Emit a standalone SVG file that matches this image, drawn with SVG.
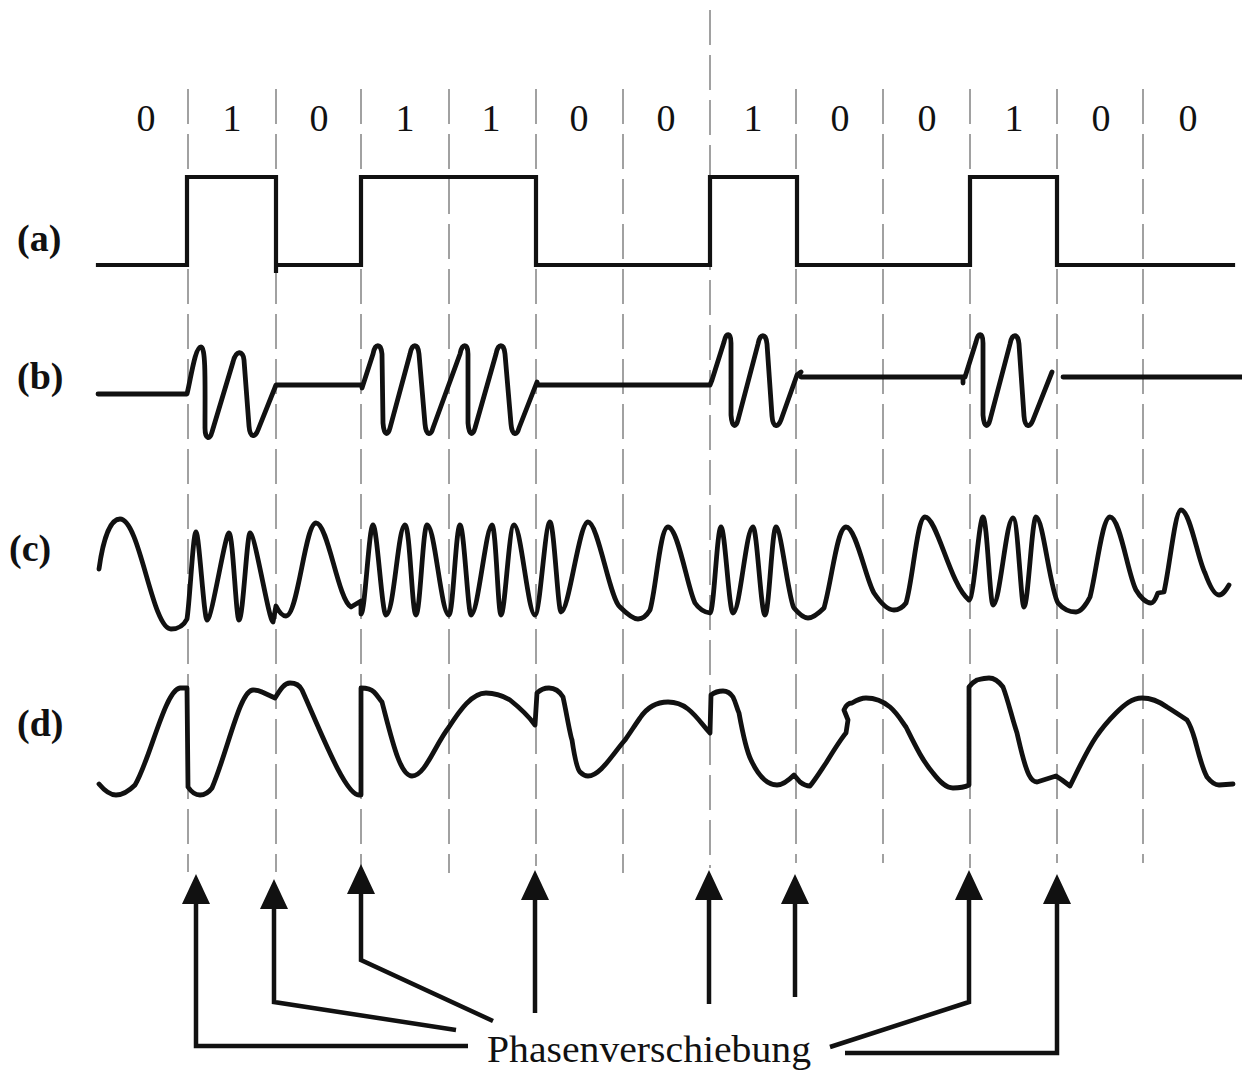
<svg xmlns="http://www.w3.org/2000/svg" width="1242" height="1071" viewBox="0 0 1242 1071">
<style>
.grid line{stroke:#8a8a8a;stroke-width:1.6;stroke-dasharray:35 10;fill:none}
.wave{fill:none;stroke:#111;stroke-width:4.8;stroke-linejoin:round;stroke-linecap:round}
.sq{fill:none;stroke:#111;stroke-width:4.2;stroke-linejoin:miter;stroke-linecap:square}
.arr{fill:none;stroke:#111;stroke-width:4.5;stroke-linejoin:miter}
text{font-family:"Liberation Serif","Times New Roman",serif;fill:#111}
.bit{font-size:38px;text-anchor:middle}
.lab{font-size:38px;font-weight:bold}
</style>
<defs>
<marker id="ah" viewBox="0 0 30 28" refX="6" refY="14" markerWidth="30" markerHeight="28" markerUnits="userSpaceOnUse" orient="auto">
<path d="M0,0 L30,14 L0,28 z" fill="#111"/>
</marker>
</defs>
<rect width="1242" height="1071" fill="#fff"/>
<g id="grid" class="grid">
<line x1="188" y1="89" x2="188" y2="872"/>
<line x1="276" y1="89" x2="276" y2="872"/>
<line x1="361" y1="89" x2="361" y2="870"/>
<line x1="449" y1="89" x2="449" y2="873"/>
<line x1="536" y1="89" x2="536" y2="866"/>
<line x1="623" y1="89" x2="623" y2="873"/>
<line x1="710" y1="10" x2="710" y2="868"/>
<line x1="796" y1="89" x2="796" y2="863"/>
<line x1="883" y1="89" x2="883" y2="863"/>
<line x1="970" y1="89" x2="970" y2="868"/>
<line x1="1057" y1="89" x2="1057" y2="863"/>
<line x1="1143" y1="89" x2="1143" y2="863"/>
</g>
<g id="bits">
<text class="bit" x="146" y="131">0</text>
<text class="bit" x="232" y="131">1</text>
<text class="bit" x="319" y="131">0</text>
<text class="bit" x="405" y="131">1</text>
<text class="bit" x="491" y="131">1</text>
<text class="bit" x="579" y="131">0</text>
<text class="bit" x="666" y="131">0</text>
<text class="bit" x="753" y="131">1</text>
<text class="bit" x="840" y="131">0</text>
<text class="bit" x="927" y="131">0</text>
<text class="bit" x="1014" y="131">1</text>
<text class="bit" x="1101" y="131">0</text>
<text class="bit" x="1188" y="131">0</text>
</g>
<g id="row-a">
<text class="lab" x="17" y="251">(a)</text>
<path class="sq" d="M98,265 L187,265 L187,177 L276,177 L276,271 M276,265 L361,265 L361,177 L536,177 L536,265 L710,265 L710,177 L797,177 L797,265 L970,265 L970,177 L1057,177 L1057,265 L1233,265"/>
</g>
<g id="row-b">
<text class="lab" x="17" y="389">(b)</text>
<path class="wave" d="M98,394 L187,394 C191,378 195,347 201,347 C206,347 205,385 205,428 C205,440 210,440 212,432 L233,362 C236,350 243,350 244,360 L249,426 C250,438 255,438 258,430 L276,385 L362,385 L362,388 L373,354 C375,343 381,343 382,354 L383,423 C384,436 388,436 390,428 L410,354 C412,343 418,343 419,354 L425,424 C426,436 431,436 433,428 L460,354 C462,343 468,343 468,354 L468,423 C469,436 473,436 475,428 L496,354 C498,343 504,343 505,354 L511,424 C512,436 517,436 519,428 L537,382 L538,385 L710,385 L712,380 L724,342 C726,332 731,332 731,343 L731,415 C732,428 736,428 738,420 L758,344 C760,333 766,333 767,344 L772,416 C773,428 778,428 781,420 L797,375 L801,372 M801,377 L963,377 L963,383 M965,377 L976,342 C978,332 983,332 983,343 L983,415 C984,428 988,428 990,420 L1010,344 C1012,333 1018,333 1019,344 L1024,416 C1025,428 1030,428 1033,420 L1052,372 M1063,377 L1242,377"/>
</g>
<g id="row-c">
<text class="lab" x="9" y="561">(c)</text>
<path class="wave" d="M99,569 C103,540 110,519 120,519 C140,519 152,629 171,629 C178,629 184,625 187,619 C190,600 193,532 196,532 C199,532 204,620 207,620 C212,620 225,533 229,533 C233,533 236,620 239,620 C243,620 247,533 250,533 C255,533 269,622 273,622 L276,606 C279,612 282,616 286,616 C298,616 305,523 316,523 C328,523 338,600 351,607 L361,601 L361,614 C365,614 369,525 373,525 C377,525 382,615 386,615 C394,615 398,525 405,525 C410,525 412,615 416,615 C420,615 423,525 427,525 C435,525 441,615 449,615 C453,615 456,525 460,525 C464,525 468,615 471,615 C478,615 486,525 492,525 C496,525 498,615 501,615 C505,615 509,525 514,525 C521,525 528,615 535,615 C540,615 545,522 550,522 C554,522 558,612 561,612 C569,612 579,522 588,522 C598,522 610,600 620,607 C625,612 632,619 638,619 C643,619 647,615 650,610 C656,590 660,527 668,527 C678,527 688,590 695,603 C699,609 704,612 710,613 C714,613 717,527 721,527 C725,527 729,613 733,613 C740,613 746,527 753,527 C757,527 761,615 765,615 C769,615 772,527 776,527 C781,527 789,602 794,608 C799,614 803,618 808,618 C814,618 820,612 824,608 C832,580 837,527 846,527 C856,527 866,580 874,593 C880,602 887,610 894,610 C898,610 903,607 906,603 C913,580 917,517 925,517 C937,517 950,585 969,600 C974,600 979,517 983,517 C987,517 990,605 993,605 C1000,605 1006,518 1013,518 C1018,518 1021,607 1024,607 C1028,607 1032,517 1036,517 C1043,517 1050,590 1058,603 C1063,609 1069,612 1076,612 C1081,612 1087,603 1090,597 C1096,575 1102,517 1110,517 C1120,517 1128,575 1136,590 C1140,597 1146,603 1151,603 C1155,603 1157,594 1158,593 L1164,592 C1170,565 1175,510 1181,510 C1190,510 1198,560 1205,573 C1209,584 1214,595 1219,595 C1223,595 1226,590 1229,585"/>
</g>
<g id="row-d">
<text class="lab" x="17" y="736">(d)</text>
<path class="wave" d="M99,784 C104,790 110,795 116,795 C124,795 130,790 135,785 C150,760 165,690 180,688 L187,688 L188,787 C192,793 196,795 200,795 C205,795 209,792 212,788 C228,750 240,690 253,690 C257,690 260,691 262,692 L275,698 C280,690 284,683 290,683 C296,683 300,686 302,690 C320,730 345,795 359,795 L361,795 L361,688 C367,688 372,690 374,692 C378,696 380,700 382,702 C392,740 400,776 412,776 C425,776 435,745 449,727 C460,710 472,693 486,693 C496,693 505,697 510,700 C520,708 530,718 535,725 L537,693 C541,689 545,688 549,688 C555,688 560,692 563,697 C566,710 570,735 572,740 C575,760 578,770 580,772 C583,775 585,776 588,776 C600,776 612,755 625,740 C630,733 635,725 640,718 C648,706 658,702 668,702 C676,702 683,705 688,709 C697,716 704,727 710,733 L711,695 C715,692 719,691 723,691 C728,691 731,694 733,697 C736,703 737,709 739,713 C743,735 746,750 751,760 C758,775 766,785 777,785 C783,785 789,780 794,775 L800,782 C804,785 807,786 810,786 C815,780 820,772 826,763 C834,750 840,740 846,733 L848,720 L844,710 C846,705 849,703 852,703 C857,700 861,698 866,698 C876,698 884,702 890,707 C897,713 901,720 906,727 C915,745 922,760 933,773 C940,782 946,788 953,788 C960,788 965,787 969,785 L969,687 C972,683 975,681 977,680 C981,679 985,678 989,678 C996,678 1000,683 1003,687 C1008,700 1012,718 1017,733 C1021,750 1024,765 1029,775 C1031,779 1034,782 1037,782 L1056,776 L1062,780 L1070,786 C1078,770 1086,752 1096,737 C1102,728 1109,720 1116,713 C1124,705 1132,698 1142,698 C1152,698 1160,702 1167,707 C1175,712 1181,716 1187,720 C1191,726 1193,733 1195,740 C1199,755 1202,768 1207,777 C1211,782 1215,785 1219,785 L1233,784"/>
</g>
<g id="connectors" class="arr">
<path marker-end="url(#ah)" d="M468,1046 L196,1046 L196,898"/>
<path marker-end="url(#ah)" d="M456,1030 L274,1002 L274,903"/>
<path marker-end="url(#ah)" d="M493,1021 L361,960 L361,888"/>
<path marker-end="url(#ah)" d="M535,1013 L535,894"/>
<path marker-end="url(#ah)" d="M709,1004 L709,894"/>
<path marker-end="url(#ah)" d="M795,997 L795,898"/>
<path marker-end="url(#ah)" d="M830,1047 L969,1002 L969,894"/>
<path marker-end="url(#ah)" d="M845,1053 L1057,1053 L1057,898"/>
</g>
<g id="label">
<text x="487" y="1062" font-size="38" textLength="324" lengthAdjust="spacingAndGlyphs">Phasenverschiebung</text>
</g>
</svg>
